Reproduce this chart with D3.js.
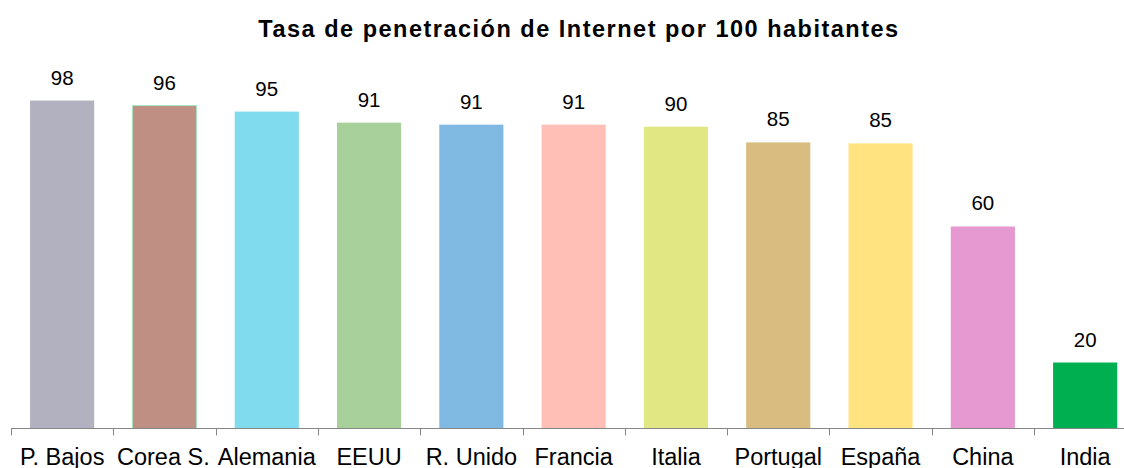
<!DOCTYPE html>
<html>
<head>
<meta charset="utf-8">
<script src="https://cdn.jsdelivr.net/npm/d3@7"></script>
<style>
  html, body { margin: 0; padding: 0; background: #fff; }
  svg { display: block; }
</style>
</head>
<body>
<svg id="chart" width="1124" height="468"></svg>
<script>
const title = "Tasa de penetración de Internet por 100 habitantes";
const categories = ["P. Bajos", "Corea S.", "Alemania", "EEUU", "R. Unido", "Francia", "Italia", "Portugal", "España", "China", "India"];
const values = [97.9, 96.4, 94.6, 91.3, 90.7, 90.7, 90.1, 85.4, 85.1, 60.3, 19.7];
const colors = ["#b1b1bf", "#bf8f84", "#80dbee", "#a8d09a", "#80b9e1", "#ffbfb6", "#e1e883", "#d9bd80", "#ffe380", "#e699d0", "#00b050"];
const strokes = ["none", "#a8e6c0", "none", "none", "none", "none", "none", "none", "none", "none", "none"];

const svg = d3.select("#chart");
const baseY = 428.5;
const left = 11, band = 102.3;

const x = d3.scaleBand().domain(categories).range([left, left + band * categories.length]).padding(0);
const y = d3.scaleLinear().domain([0, 100]).range([baseY, baseY - 335]);
const barW = x.bandwidth() * 0.627;

svg.append("text")
  .attr("x", 579).attr("y", 37)
  .attr("text-anchor", "middle")
  .attr("font-family", "Liberation Sans, Arial, sans-serif")
  .attr("font-weight", "bold")
  .attr("font-size", 23.5)
  .attr("letter-spacing", "1.5px")
  .attr("fill", "#000")
  .text(title);

const data = categories.map((c, i) => ({c, v: values[i], col: colors[i], st: strokes[i]}));

svg.selectAll("rect.bar").data(data).enter().append("rect")
  .attr("class", "bar")
  .attr("x", d => x(d.c) + (x.bandwidth() - barW) / 2)
  .attr("y", d => y(d.v))
  .attr("width", barW)
  .attr("height", d => y(0) - y(d.v))
  .attr("fill", d => d.col)
  .attr("stroke", d => d.st)
  .attr("stroke-width", 1);

svg.selectAll("text.val").data(data).enter().append("text")
  .attr("class", "val")
  .attr("x", d => x(d.c) + x.bandwidth() / 2)
  .attr("y", d => y(d.v) - 16)
  .attr("text-anchor", "middle")
  .attr("font-family", "Liberation Sans, Arial, sans-serif")
  .attr("font-size", 20.5)
  .attr("fill", "#000")
  .text(d => d3.format(".0f")(d.v));

// axis
const axisG = svg.append("g").attr("transform", `translate(0,${baseY})`);
axisG.append("line")
  .attr("x1", left).attr("x2", 1124)
  .attr("y1", 0).attr("y2", 0)
  .attr("stroke", "#868686").attr("stroke-width", 1);
axisG.selectAll("line.tick").data(categories).enter().append("line")
  .attr("class", "tick")
  .attr("x1", d => Math.round(x(d)) + 0.5).attr("x2", d => Math.round(x(d)) + 0.5)
  .attr("y1", 0).attr("y2", 7)
  .attr("stroke", "#868686").attr("stroke-width", 1);
const labels = axisG.selectAll("text.cat").data(categories).enter().append("text")
  .attr("class", "cat")
  .attr("x", d => x(d) + x.bandwidth() / 2)
  .attr("y", 36.5)
  .attr("text-anchor", "middle")
  .attr("font-family", "Liberation Sans, Arial, sans-serif")
  .attr("font-size", 23.5)
  .attr("fill", "#000")
  .text(d => d);

// overlap avoidance: labels wider than their band are right-aligned to band end,
// then earlier labels are nudged left if they collide.
const nodes = labels.nodes();
const info = nodes.map((n, i) => {
  const w = n.getComputedTextLength();
  let cx = x(categories[i]) + x.bandwidth() / 2;
  if (w > x.bandwidth() - 4) cx = x(categories[i]) + x.bandwidth() - 1 - w / 2;
  return {w, cx};
});
for (let i = info.length - 2; i >= 0; i--) {
  const rightEdge = info[i].cx + info[i].w / 2;
  const nextLeft = info[i + 1].cx - info[i + 1].w / 2;
  if (rightEdge > nextLeft - 8) info[i].cx -= rightEdge - (nextLeft - 8);
}
labels.attr("x", (d, i) => info[i].cx);
</script>
</body>
</html>
